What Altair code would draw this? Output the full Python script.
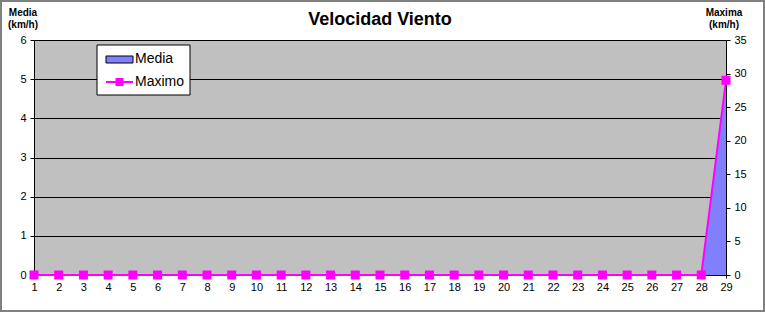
import altair as alt
import pandas as pd

dias = list(range(1, 30))
media = [0] * 28 + [5]
maximo = [0] * 28 + [29]

df = pd.DataFrame({"dia": dias, "Media": media, "Maximo": maximo})

FONT = "Arial, Liberation Sans"

x = alt.X("dia:Q", scale=alt.Scale(domain=[1, 29], nice=False, zero=False),
          axis=alt.Axis(values=dias, format="d", grid=False, domainColor="black",
                        tickColor="black", tickSize=3, labelFontSize=11, labelFont=FONT,
                        labelColor="black", title=None, labelPadding=3,
                        labelFlush=False, labelOverlap=False, labelBound=False))

area = alt.Chart(df).mark_area(color="#8080FF", opacity=1).encode(
    x=x,
    y=alt.Y("Media:Q", scale=alt.Scale(domain=[0, 6], nice=False),
            axis=alt.Axis(values=[0, 1, 2, 3, 4, 5, 6], grid=True, gridColor="#000000",
                          gridWidth=1, domainColor="black", tickColor="black", tickSize=4,
                          labelFontSize=11, labelFont=FONT, labelColor="black",
                          title=None, labelPadding=4, orient="left", labelFlush=False)),
)

line = alt.Chart(df).mark_line(
    color="#FF00FF", strokeWidth=2,
    point=alt.OverlayMarkDef(shape="square", size=81, filled=True, color="#FF00FF", opacity=1),
).encode(
    x=x,
    y=alt.Y("Maximo:Q", scale=alt.Scale(domain=[0, 35], nice=False),
            axis=alt.Axis(values=[0, 5, 10, 15, 20, 25, 30, 35], grid=False,
                          domainColor="black", tickColor="black", tickSize=4,
                          labelFontSize=11, labelFont=FONT, labelColor="black",
                          title=None, labelPadding=4, orient="right", labelFlush=False)),
)

one = pd.DataFrame({"a": [0]})

def txt(t, px, py, size=10, weight="bold", align="center"):
    return alt.Chart(one).mark_text(text=t, font=FONT, fontSize=size, fontWeight=weight,
                                    color="black", align=align, baseline="middle").encode(
        x=alt.value(px), y=alt.value(py))

titles = [
    txt("Velocidad Viento", 346, -20, size=18),
    txt("Media", -11, -27), txt("(km/h)", -11, -15),
    txt("Maxima", 690, -27), txt("(km/h)", 690, -15),
]

# legend
leg_box = alt.Chart(one).mark_rect(fill="white", stroke="black", strokeWidth=1).encode(
    x=alt.value(63), x2=alt.value(156), y=alt.value(5), y2=alt.value(55))
leg_sw = alt.Chart(one).mark_rect(fill="#8080FF", stroke="black", strokeWidth=1).encode(
    x=alt.value(72), x2=alt.value(99), y=alt.value(16), y2=alt.value(23))
leg_line = alt.Chart(one).mark_rule(color="#FF00FF", strokeWidth=2).encode(
    x=alt.value(72), x2=alt.value(99), y=alt.value(42))
leg_pt = alt.Chart(one).mark_point(shape="square", size=64, filled=True, color="#FF00FF",
                                   opacity=1).encode(x=alt.value(85.5), y=alt.value(42))
leg_t1 = txt("Media", 101, 19, size=14, weight="normal", align="left")
leg_t2 = txt("Maximo", 101, 42, size=14, weight="normal", align="left")

frame = alt.Chart(one).mark_rect(fill=None, stroke="#808080", strokeWidth=2).encode(
    x=alt.value(-33), x2=alt.value(730), y=alt.value(-39), y2=alt.value(271))

base = alt.layer(area, line).resolve_scale(y="independent")

chart = alt.layer(
    base, *titles, leg_box, leg_sw, leg_line, leg_pt, leg_t1, leg_t2, frame
).properties(
    width=692, height=235,
    autosize=alt.AutoSizeParams(type="none"),
    padding={"left": 34, "top": 40, "right": 39, "bottom": 37},
    background="white",
).configure_view(fill="#C0C0C0", stroke="#000000", strokeWidth=1)

chart.save("out.html", embed_options={"renderer": "svg", "actions": False})
